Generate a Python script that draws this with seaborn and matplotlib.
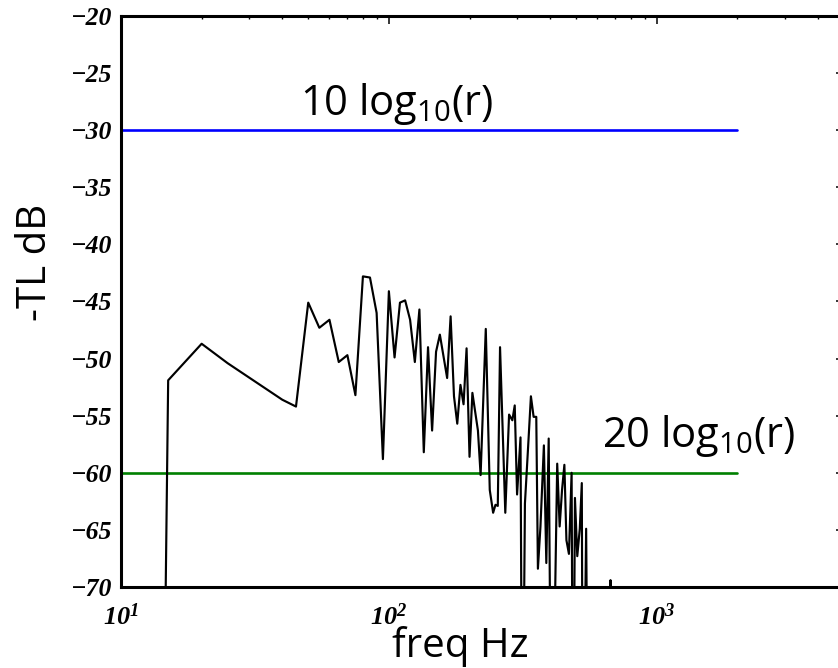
import matplotlib
matplotlib.use("Agg")
import matplotlib.pyplot as plt
import pandas as pd
import seaborn as sns
from matplotlib.ticker import LogLocator, MultipleLocator, NullFormatter

# Transmission-loss spectrum (frequency in Hz, -TL in dB); values far below
# the axis floor stand for deep notches that run off the bottom of the plot.
freq_hz = [10, 15, 20, 25, 40, 45, 50, 55, 60, 65, 70, 75, 80, 85, 90, 95,
           100, 105, 110, 115, 120, 125, 130, 135, 140, 145, 150, 155, 165,
           170, 175, 180, 185, 190, 195, 200, 205, 215, 220, 230, 238, 245,
           250, 255, 260, 272, 281, 289, 295, 301, 310, 315, 322, 331, 339,
           347, 355, 360, 368, 379, 387, 395, 405, 425, 434, 443, 452, 460,
           470, 481, 487, 495, 505, 516, 525, 530, 545, 555, 660, 672, 685,
           2000]
neg_tl_db = [-400, -51.9, -48.7, -50.4, -53.6, -54.2, -45.1, -47.3, -46.6,
             -50.3, -49.7, -53.2, -42.8, -42.9, -46.0, -58.8, -44.1, -49.9,
             -45.1, -44.9, -46.6, -50.3, -45.7, -58.2, -49.0, -56.3, -49.4,
             -47.9, -51.7, -46.3, -53.3, -55.7, -52.3, -54.0, -49.1, -58.6,
             -53.0, -56.3, -60.2, -47.4, -61.5, -63.5, -62.8, -62.9, -49.0,
             -63.5, -54.9, -55.4, -54.1, -61.9, -56.9, -90, -62.7, -57.7,
             -53.3, -55.1, -55.1, -68.4, -64.7, -57.6, -67.9, -57.0, -90,
             -59.2, -64.7, -61.5, -59.3, -65.9, -67.1, -60.0, -90, -62.2,
             -67.3, -64.9, -60.9, -90, -64.9, -90, -90, -69.4, -90, -90]

# Reference levels 10 log10(r) and 20 log10(r)
ref_freq_hz = [10, 2000]
ref_10log_db = [-30, -30]
ref_20log_db = [-60, -60]

x_limits = (10, 5000)
y_limits = (-70, -20)

sns.set_style("white")
plt.rcParams.update({
    "font.family": ["Liberation Serif", "DejaVu Serif"],
    "font.style": "italic",
    "font.weight": "bold",
    "axes.unicode_minus": True,
    "text.color": "black",
    "axes.labelcolor": "black",
    "xtick.color": "black",
    "ytick.color": "black",
    "axes.edgecolor": "black",
})

spectrum = pd.DataFrame({"freq": freq_hz, "db": neg_tl_db})
ref10 = pd.DataFrame({"freq": ref_freq_hz, "db": ref_10log_db})
ref20 = pd.DataFrame({"freq": ref_freq_hz, "db": ref_20log_db})

W, H = 838, 668
fig = plt.figure(figsize=(W / 100, H / 100), dpi=100)
fig.patch.set_facecolor("white")
left, right, top, bottom = 121, 844, 16, 587
ax = fig.add_axes([left / W, 1 - bottom / H, (right - left) / W, (bottom - top) / H])

sns.lineplot(data=ref10, x="freq", y="db", color="#0000ff", lw=1.9,
             estimator=None, ax=ax)
sns.lineplot(data=ref20, x="freq", y="db", color="#008000", lw=1.9,
             estimator=None, ax=ax)
sns.lineplot(data=spectrum, x="freq", y="db", color="black", lw=1.55,
             estimator=None, ax=ax)

ax.set_xscale("log")
ax.set_xlim(*x_limits)
ax.set_ylim(*y_limits)
ax.xaxis.set_major_locator(LogLocator(base=10))
ax.xaxis.set_minor_locator(LogLocator(base=10, subs=range(2, 10)))
ax.xaxis.set_minor_formatter(NullFormatter())
ax.yaxis.set_major_locator(MultipleLocator(5))

ax.tick_params(which="both", direction="in", top=True, right=True,
               labelsize=18.5, colors="black")
ax.tick_params(which="major", length=5.5, width=1.1)
ax.tick_params(which="minor", length=2.5, width=1.0)
ax.tick_params(axis="x", which="major", pad=12, labelsize=19)
ax.tick_params(axis="y", which="major", pad=6)

fig.canvas.draw()
for lab in ax.get_xticklabels() + ax.get_yticklabels():
    lab.set_fontfamily("Liberation Serif")
    lab.set_fontstyle("italic")
    lab.set_fontweight("bold")

for sp in ax.spines.values():
    sp.set_visible(True)
    sp.set_linewidth(2.2)
    sp.set_color("black")

label_font = dict(family=["Open Sans", "DejaVu Sans"], style="normal",
                  weight="normal", size=29, color="black")
ax.set_xlabel("freq Hz", **label_font)
ax.set_ylabel("-TL dB", **label_font)
ax.xaxis.set_label_coords(0.469, -0.068)
ax.yaxis.set_label_coords(-0.09, 0.569)

note_font = dict(family=["Open Sans", "DejaVu Sans"], style="normal",
                 weight="normal", size=30, color="black")
ax.text(46.6, -28.65, r"10 log$_{\mathdefault{10}}$(r)", ha="left",
        va="baseline", **note_font)
ax.text(624, -57.74, r"20 log$_{\mathdefault{10}}$(r)", ha="left",
        va="baseline", **note_font)

ax.grid(False)
fig.savefig("out.png", dpi=100)
